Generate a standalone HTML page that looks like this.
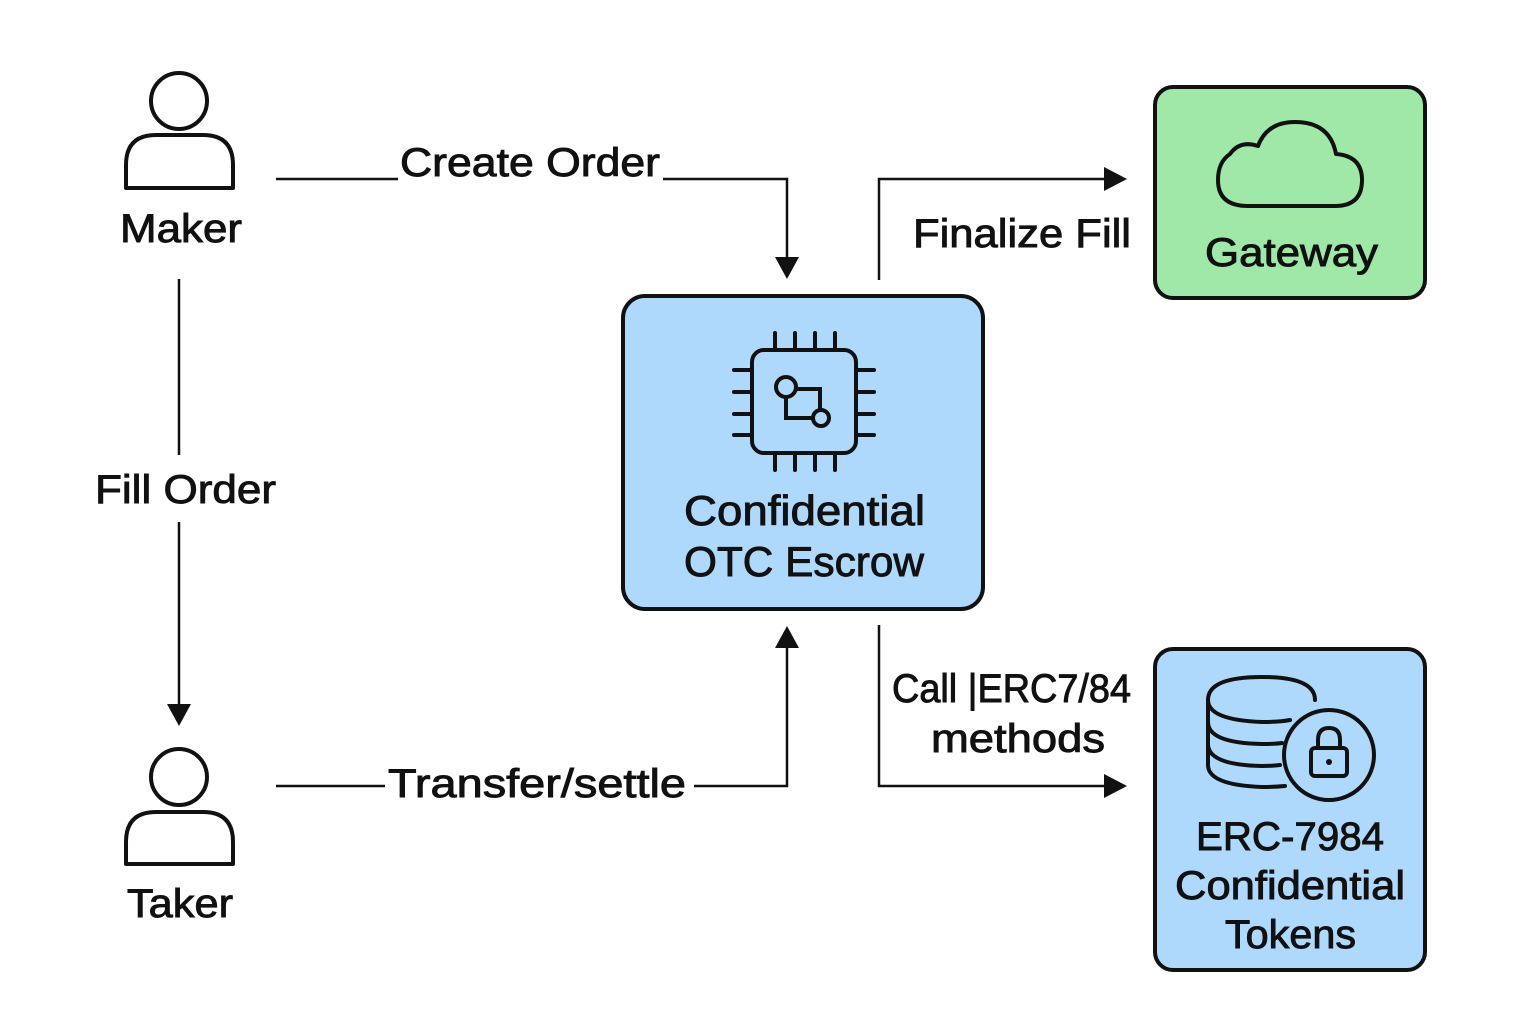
<!DOCTYPE html>
<html><head><meta charset="utf-8"><style>
html,body{margin:0;padding:0;background:#fff}
svg{display:block}
text{font-family:"Liberation Sans",sans-serif;fill:#111;stroke:#111;stroke-width:0.9}
</style></head><body>
<svg width="1536" height="1024" viewBox="0 0 1536 1024">
<g stroke="#111" stroke-width="4" fill="none" stroke-linejoin="round" stroke-linecap="round">
<circle cx="179" cy="101" r="28"/>
<path d="M126 188 V165 Q126 135 156 135 H203 Q233 135 233 165 V188 Z"/>
<circle cx="179" cy="777" r="28"/>
<path d="M126 864 V842 Q126 812 156 812 H203 Q233 812 233 842 V864 Z"/>
</g>
<g stroke="#111" stroke-width="2.5" fill="none">
<path d="M276 179 H398"/>
<path d="M663 179 H787 V262"/>
<path d="M179 279 V455"/>
<path d="M179 522 V708"/>
<path d="M276 786 H385"/>
<path d="M694 786 H787 V642"/>
<path d="M879 280 V179 H1110"/>
<path d="M879 625 V786 H1110"/>
</g>
<g fill="#111">
<polygon points="775,257 799,257 787,279"/>
<polygon points="167,704 191,704 179,726"/>
<polygon points="775,648 799,648 787,626"/>
<polygon points="1104,167 1104,191 1127,179"/>
<polygon points="1104,774 1104,798 1127,786"/>
</g>
<g font-size="40" lengthAdjust="spacingAndGlyphs">
<text x="120" y="242" textLength="122" lengthAdjust="spacingAndGlyphs">Maker</text>
<text x="127" y="917" textLength="106" lengthAdjust="spacingAndGlyphs">Taker</text>
<text x="400" y="176" textLength="260" lengthAdjust="spacingAndGlyphs">Create Order</text>
<text x="95" y="503" textLength="181" lengthAdjust="spacingAndGlyphs">Fill Order</text>
<text x="388" y="797" textLength="298" lengthAdjust="spacingAndGlyphs">Transfer/settle</text>
<text x="913" y="247" textLength="218" lengthAdjust="spacingAndGlyphs">Finalize Fill</text>
<text x="892" y="702" textLength="239" lengthAdjust="spacingAndGlyphs">Call |ERC7/84</text>
<text x="931" y="752" textLength="174" lengthAdjust="spacingAndGlyphs">methods</text>
</g>
<rect x="623" y="296" width="360" height="313" rx="22" fill="#aed8fc" stroke="#111" stroke-width="4"/>
<g stroke="#111" stroke-width="4" fill="none" stroke-linecap="round">
<rect x="752" y="350" width="104" height="103" rx="12"/>
<path d="M775 333V350M795 333V350M815 333V350M835 333V350M775 453V470M795 453V470M815 453V470M835 453V470M734 370H752M734 392H752M734 414H752M734 435H752M856 370H874M856 392H874M856 414H874M856 435H874"/>
<circle cx="786" cy="387" r="10"/>
<circle cx="821" cy="418" r="8"/>
<path d="M796 389 H820 V410 M786 397 V418 H813"/>
</g>
<text x="684" y="525" font-size="42" textLength="241" lengthAdjust="spacingAndGlyphs">Confidential</text>
<text x="684" y="576" font-size="42" textLength="240" lengthAdjust="spacingAndGlyphs">OTC Escrow</text>
<rect x="1155" y="87" width="270" height="211" rx="18" fill="#a0e8a8" stroke="#111" stroke-width="4"/>
<path d="M1248 206 H1335 Q1362 206 1362 180 Q1362 156 1336 154 Q1330 122 1295 122 Q1267 122 1258 146 Q1240 140 1230 154 Q1218 162 1218 180 Q1218 206 1248 206 Z" fill="none" stroke="#111" stroke-width="4" stroke-linejoin="round"/>
<text x="1205" y="266" font-size="40" textLength="173" lengthAdjust="spacingAndGlyphs">Gateway</text>
<rect x="1155" y="649" width="270" height="321" rx="18" fill="#aed8fc" stroke="#111" stroke-width="4"/>
<g stroke="#111" stroke-width="4" fill="none" stroke-linecap="round">
<path d="M1315 700 Q1315 677 1262 677 Q1208 677 1208 700 Q1208 720 1262 722 Q1280 722 1290 720"/>
<path d="M1208 700 V765 Q1208 785 1262 787 Q1275 787 1285 786"/>
<path d="M1208 722 Q1208 743 1262 744 Q1275 744 1282 743"/>
<path d="M1208 744 Q1208 765 1262 766 Q1272 766 1280 765"/>
<circle cx="1329" cy="755" r="45"/>
<rect x="1311" y="748" width="36" height="28" rx="4"/>
<path d="M1318 748 V740 Q1318 728 1329 728 Q1340 728 1340 740 V748"/>
</g>
<circle cx="1329" cy="762" r="3" fill="#111"/>
<text x="1196" y="850" font-size="40" textLength="188" lengthAdjust="spacingAndGlyphs">ERC-7984</text>
<text x="1175" y="899" font-size="40" textLength="230" lengthAdjust="spacingAndGlyphs">Confidential</text>
<text x="1225" y="948" font-size="40" textLength="131" lengthAdjust="spacingAndGlyphs">Tokens</text>
</svg>
</body></html>
